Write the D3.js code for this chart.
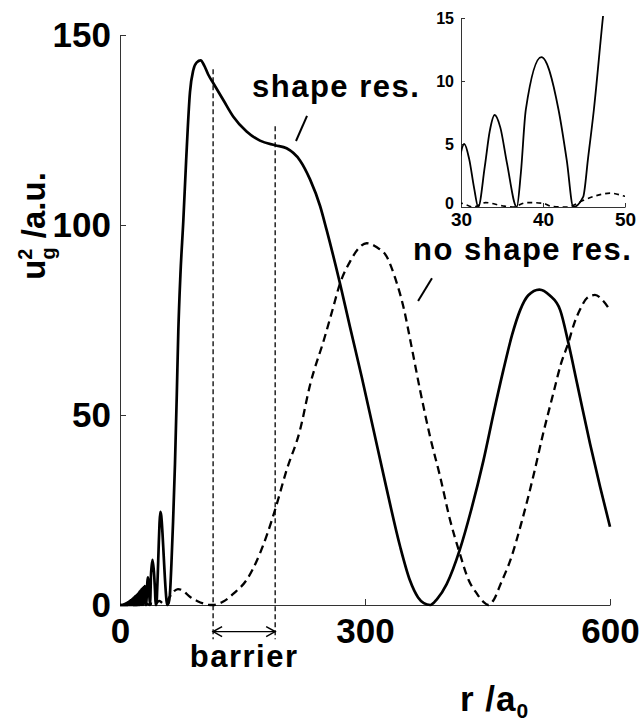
<!DOCTYPE html>
<html>
<head>
<meta charset="utf-8">
<script src="https://cdn.jsdelivr.net/npm/d3@7"></script>
<style>
  html, body { margin: 0; padding: 0; background: #fff; }
  svg { display: block; }
  text { font-family: "Liberation Sans", Arial, Helvetica, sans-serif; font-weight: bold; fill: #000; }
</style>
</head>
<body>
<div id="chart"></div>
<script>
// --- données : [r (a0), u_g^2 (u.a.)] ---
const shapeRes = [
  [0, 0], [3, 0], [4, 0], [4.5, 0.15], [5, 0], [5.5, 0.25], [6, 0], [6.5, 0.35], [7, 0], [7.5, 0.45],
  [8, 0], [8.5, 0.55], [9, 0], [9.5, 0.7], [10, 0], [10.5, 0.85], [11, 0], [11.5, 1.0], [12, 0],
  [12.5, 1.15], [13, 0], [13.5, 1.3], [14, 0], [14.5, 1.5], [15, 0], [15.5, 1.7], [16, 0], [16.5, 1.9],
  [17, 0], [17.5, 2.1], [18, 0], [18.5, 2.3], [19, 0], [19.5, 2.5], [20, 0], [20.5, 2.7], [21, 0],
  [21.5, 2.9], [22, 0], [22.55, 3.2], [23.1, 0], [23.65, 3.5], [24.2, 0], [24.8, 3.8], [25.4, 0],
  [26, 4.1], [26.6, 0], [27.25, 4.4], [27.9, 0], [28.55, 4.7], [29.2, 0],
  [29.9, 4.0], [30.4, 5.0], [31, 3.8], [31.6, 1.5], [32.1, 0], [32.9, 3.2], [33.5, 6.0], [34.1, 7.3],
  [34.8, 6.3], [35.6, 3.5], [36.8, 0], [37.3, 2.7], [37.9, 7.7], [39.8, 11.9], [41.9, 7.7], [42.9, 3.7],
  [43.7, 0], [44.9, 0.8], [45.5, 3.9], [46.2, 7.7], [47.3, 15], [48.3, 21], [49.3, 24.5], [50.5, 23.5],
  [52, 19], [53.5, 13], [55, 7], [56.8, 1.5], [57.8, 0], [59.5, 0.5], [61, 2.5], [63, 11], [65, 22],
  [67.3, 37], [69.5, 55], [71.4, 72], [74, 87], [77.5, 101], [81, 117], [85.7, 135], [89.8, 140.8],
  [94, 142.8], [98.8, 143.3], [103, 142], [108, 139.6], [114.3, 137.3], [126.5, 132.9], [138.8, 128.5],
  [155, 124.6], [171.4, 122.2], [190, 121], [204, 120.2], [220.4, 117], [232.7, 112], [245, 105],
  [253, 98.7], [269.4, 84.6], [281.6, 73.2], [296, 60], [310, 46.5], [325, 32], [343, 15.4],
  [355, 6.5], [365, 2], [372, 0.5], [380, 0], [388, 1.5], [400, 5.5], [416, 14.5], [430, 25],
  [445, 38], [458, 51], [469.4, 61.8], [480, 71], [490, 77.6], [500, 81.5], [513.5, 83], [526, 81.5],
  [539, 77.6], [549, 69], [560, 58], [575.5, 42.5], [588, 31], [600, 20.6]
];

const noShapeRes = [
  [0, 0], [20, 0], [25, 0.1], [28, 0.25], [30, 0.3], [31.5, 0], [33, 0.35], [35, 0.1], [36.3, 0],
  [38, 0.35], [40, 0.3], [41, 0.05], [43, 0], [44.8, 0.5], [46.5, 0.9], [48.2, 1.1], [50, 0.85],
  [52, 0.5], [54, 0.4], [57, 0.9], [61, 2.2], [66, 3.6], [71, 4.2], [76, 3.9], [86, 2.1], [95, 1],
  [102, 0.4], [108, 0.05], [114, 0], [120, 0.3], [126.5, 0.9], [140, 3.2], [155, 6.6], [171.4, 13.6],
  [180, 18.5], [189.8, 25], [204, 35.5], [220.4, 46], [232.7, 57.9], [250, 70], [260, 77.5],
  [269.4, 84.6], [282, 90.5], [292, 93.8], [302, 95.2], [314, 94.2], [326.5, 91.7], [337, 86],
  [347, 78.5], [357, 68], [367, 57], [380, 44], [392, 33.8], [404, 22.5], [416, 13.6], [427, 6.5],
  [437, 3], [445, 0.8], [451, 0], [458, 1.5], [466, 5.5], [478, 11.8], [492, 22], [506, 33.8],
  [518, 45], [530.6, 55.7], [540, 63.5], [549, 69], [556, 74], [563, 77.6], [572, 80.8],
  [581.6, 81.6], [591, 80.2], [600, 77.6]
];

const mainXTicks = [0, 300, 600];
const mainYTicks = [0, 50, 100, 150];
const insetXTicks = [30, 40, 50];
const insetYTicks = [0, 5, 10, 15];

// barrière : positions r et hauts des traits verticaux
const barrierR = [114, 190];
const barrierTop = [141, 126];
const barrierBottom = -9;
const barrierArrowY = -7;

// annotations : [r, u] du texte, puis du petit trait
const shapeLabel = { text: 'shape res.', r: 161.6, u: 133.7, lead: [[229, 128.7], [215.5, 122.1]] };
const noShapeLabel = { text: 'no shape res.', r: 358.8, u: 90.8, lead: [[382, 86], [365, 80]] };

const W = 642, H = 724;

const svg = d3.select('#chart').append('svg')
    .attr('width', W)
    .attr('height', H);

// Échelles principales
const x = d3.scaleLinear().domain([0, 600]).range([120, 610]);
const y = d3.scaleLinear().domain([0, 150]).range([605, 35]);

// Échelles de l'encart
const xi = d3.scaleLinear().domain([30, 50]).range([461, 625]);
const yi = d3.scaleLinear().domain([0, 15]).range([207, 18]);

function styleAxis(g, fontSize) {
    g.select('.domain').attr('stroke', '#333').attr('stroke-width', 1);
    g.selectAll('.tick line').attr('stroke', '#333').attr('stroke-width', 1);
    g.selectAll('.tick text')
        .attr('fill', '#000')
        .style('font-size', fontSize)
        .style('font-family', '"Liberation Sans", Arial, sans-serif')
        .style('font-weight', 'bold');
}

// Axes principaux (graduations vers l'intérieur)
svg.append('g')
    .attr('transform', `translate(0,${y(0)})`)
    .call(d3.axisBottom(x).tickValues(mainXTicks).tickSizeInner(-6).tickSizeOuter(0).tickPadding(13))
    .call(g => styleAxis(g, '35px'));

svg.append('g')
    .attr('transform', `translate(${x(0)},0)`)
    .call(d3.axisLeft(y).tickValues(mainYTicks).tickSizeInner(-6).tickSizeOuter(0).tickPadding(9))
    .call(g => styleAxis(g, '35px'));

// Traits de la barrière
const barrier = svg.append('g');
barrierR.forEach((r, i) => {
    barrier.append('line')
        .attr('x1', x(r)).attr('x2', x(r))
        .attr('y1', y(barrierTop[i])).attr('y2', y(barrierBottom))
        .attr('stroke', '#000')
        .attr('stroke-width', 1.3)
        .attr('stroke-dasharray', '5,3');
});

// Flèche double
const ax1 = x(barrierR[0]), ax2 = x(barrierR[1]), ay = y(barrierArrowY);
barrier.append('line')
    .attr('x1', ax1).attr('x2', ax2).attr('y1', ay).attr('y2', ay)
    .attr('stroke', '#000').attr('stroke-width', 1.3);
barrier.append('path')
    .attr('d', `M${ax1 + 9},${ay - 5}L${ax1},${ay}L${ax1 + 9},${ay + 5}M${ax2 - 9},${ay - 5}L${ax2},${ay}L${ax2 - 9},${ay + 5}`)
    .attr('fill', 'none').attr('stroke', '#000').attr('stroke-width', 1.5);

svg.append('text')
    .attr('x', (ax1 + ax2) / 2)
    .attr('y', ay + 35)
    .attr('text-anchor', 'middle')
    .style('font-size', '31px')
    .style('letter-spacing', '1.5px')
    .text('barrier');

// Courbes principales
const line = d3.line()
    .x(d => x(d[0]))
    .y(d => y(d[1]))
    .curve(d3.curveMonotoneX);

svg.append('path')
    .datum(noShapeRes)
    .attr('d', line)
    .attr('fill', 'none')
    .attr('stroke', '#000')
    .attr('stroke-width', 2.3)
    .attr('stroke-dasharray', '8,5');

svg.append('path')
    .datum(shapeRes)
    .attr('d', line)
    .attr('fill', 'none')
    .attr('stroke', '#000')
    .attr('stroke-width', 2.7)
    .attr('stroke-linejoin', 'round');

// Annotations
[shapeLabel, noShapeLabel].forEach(lab => {
    svg.append('text')
        .attr('x', x(lab.r))
        .attr('y', y(lab.u))
        .style('font-size', '31px')
        .style('letter-spacing', '1.5px')
        .text(lab.text);
    svg.append('line')
        .attr('x1', x(lab.lead[0][0])).attr('y1', y(lab.lead[0][1]))
        .attr('x2', x(lab.lead[1][0])).attr('y2', y(lab.lead[1][1]))
        .attr('stroke', '#000').attr('stroke-width', 2);
});

// Titres des axes
const yLabel = svg.append('text')
    .attr('transform', 'translate(45,226) rotate(-90)')
    .attr('text-anchor', 'middle')
    .style('font-size', '33px');
yLabel.append('tspan').text('u');
yLabel.append('tspan').attr('dy', -13).style('font-size', '20px').text('2');
yLabel.append('tspan').attr('dx', -11).attr('dy', 23).style('font-size', '20px').text('g');
yLabel.append('tspan').attr('dy', -10).text(' /a.u.');

const xLabel = svg.append('text')
    .attr('x', 460)
    .attr('y', 711)
    .style('font-size', '35px')
    .style('letter-spacing', '1px');
xLabel.append('tspan').text('r /a');
xLabel.append('tspan').attr('dy', 7).style('font-size', '21px').text('0');

// --- Encart (zoom 30 à 50) ---
const inset = svg.append('g');

inset.append('clipPath')
    .attr('id', 'clip-inset')
    .append('rect')
    .attr('x', xi(30)).attr('y', yi(15) - 2)
    .attr('width', xi(50) - xi(30)).attr('height', yi(0) - yi(15) + 2);

inset.append('g')
    .attr('transform', `translate(0,${yi(0)})`)
    .call(d3.axisBottom(xi).tickValues(insetXTicks).tickSizeInner(-4).tickSizeOuter(0).tickPadding(6))
    .call(g => styleAxis(g, '19px'));

inset.append('g')
    .attr('transform', `translate(${xi(30)},0)`)
    .call(d3.axisLeft(yi).tickValues(insetYTicks).tickSizeInner(-4).tickSizeOuter(0).tickPadding(7))
    .call(g => styleAxis(g, '16px'));

// le « 0 » vertical remonte un peu pour ne pas toucher le « 30 »
inset.selectAll('g.tick text').filter(d => d === 0).attr('dy', '0.1em');

const lineInset = d3.line()
    .x(d => xi(d[0]))
    .y(d => yi(d[1]))
    .curve(d3.curveMonotoneX);

const curves = inset.append('g').attr('clip-path', 'url(#clip-inset)');

curves.append('path')
    .datum(noShapeRes)
    .attr('d', lineInset)
    .attr('fill', 'none')
    .attr('stroke', '#000')
    .attr('stroke-width', 1.6)
    .attr('stroke-dasharray', '5,4');

curves.append('path')
    .datum(shapeRes)
    .attr('d', lineInset)
    .attr('fill', 'none')
    .attr('stroke', '#000')
    .attr('stroke-width', 1.8);
</script>
</body>
</html>
